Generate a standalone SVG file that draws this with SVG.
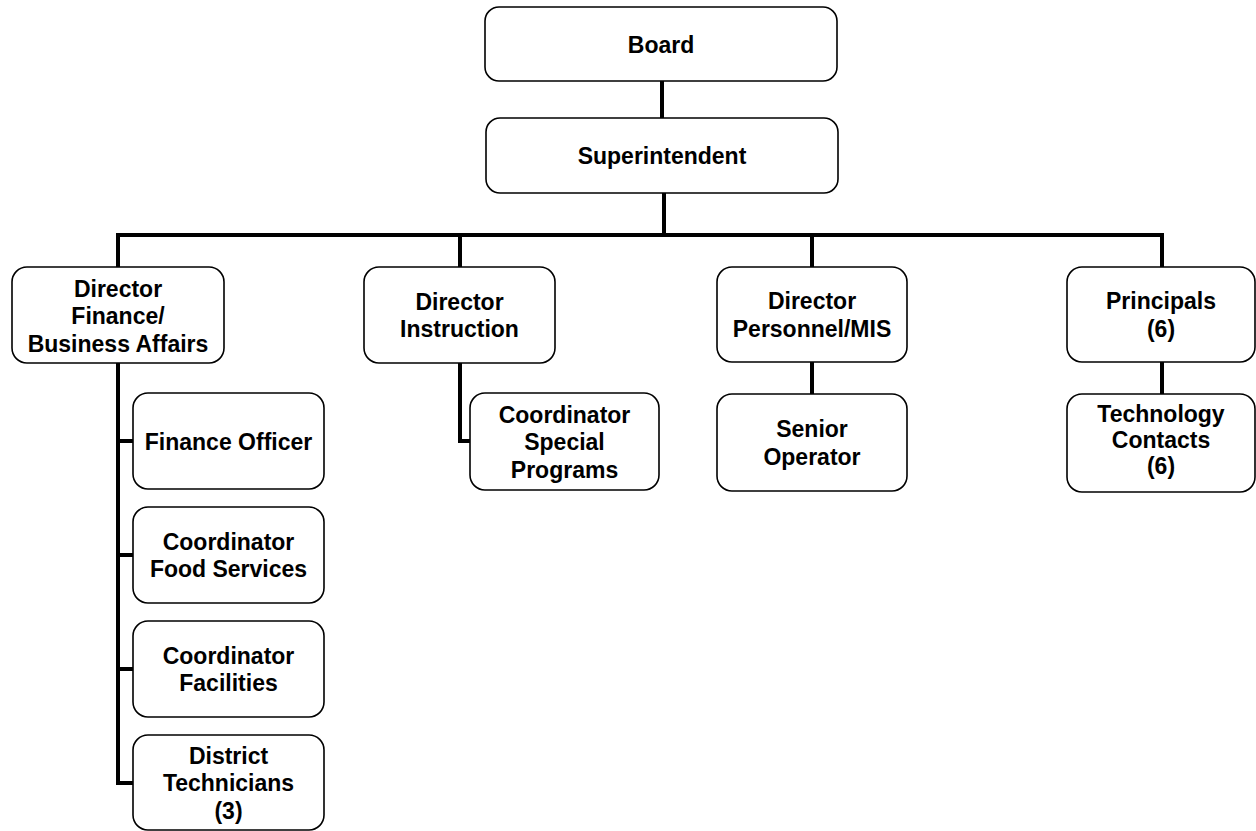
<svg xmlns="http://www.w3.org/2000/svg" width="1256" height="831" viewBox="0 0 1256 831">
  <style>
    .box { fill: #ffffff; stroke: #000000; stroke-width: 1.6; }
    .lbl { font-family: "Liberation Sans", Arial, sans-serif; font-weight: bold; font-size: 23px; fill: #000000; text-anchor: middle; }
    .wire { fill: none; stroke: #000000; stroke-width: 4; stroke-linejoin: miter; stroke-linecap: butt; }
  </style>
  <rect width="1256" height="831" fill="#ffffff"/>

  <!-- reporting lines -->
  <g id="connectors">
    <path class="wire" d="M662 81 V118"/>
    <path class="wire" d="M664 193 V235"/>
    <path class="wire" d="M118 267 V235 H1162 V267"/>
    <path class="wire" d="M460 235 V267"/>
    <path class="wire" d="M812 235 V267"/>
    <path class="wire" d="M118 363 V783 H133"/>
    <path class="wire" d="M118 441 H133 M118 555 H133 M118 669 H133"/>
    <path class="wire" d="M460 363 V441 H470"/>
    <path class="wire" d="M812 362 V394"/>
    <path class="wire" d="M1162 362 V394"/>
  </g>

  <g id="board">
    <rect class="box" x="485" y="7" width="352" height="74" rx="14"/>
    <text class="lbl" x="661" y="52.5">Board</text>
  </g>

  <g id="superintendent">
    <rect class="box" x="486" y="118" width="352" height="75" rx="14"/>
    <text class="lbl" x="662" y="164">Superintendent</text>
  </g>

  <g id="director-finance">
    <rect class="box" x="12" y="267" width="212" height="96" rx="15"/>
    <text class="lbl" x="118" y="296.5">Director</text>
    <text class="lbl" x="118" y="324">Finance/</text>
    <text class="lbl" x="118" y="351.5">Business Affairs</text>
  </g>

  <g id="director-instruction">
    <rect class="box" x="364" y="267" width="191" height="96" rx="15"/>
    <text class="lbl" x="459.5" y="309.5">Director</text>
    <text class="lbl" x="459.5" y="337">Instruction</text>
  </g>

  <g id="director-personnel">
    <rect class="box" x="717" y="267" width="190" height="95" rx="15"/>
    <text class="lbl" x="812" y="309">Director</text>
    <text class="lbl" x="812" y="336.5">Personnel/MIS</text>
  </g>

  <g id="principals">
    <rect class="box" x="1067" y="267" width="188" height="95" rx="15"/>
    <text class="lbl" x="1161" y="309">Principals</text>
    <text class="lbl" x="1161" y="336.5">(6)</text>
  </g>

  <g id="finance-officer">
    <rect class="box" x="133" y="393" width="191" height="96" rx="15"/>
    <text class="lbl" x="228.5" y="449.5">Finance Officer</text>
  </g>

  <g id="coordinator-food-services">
    <rect class="box" x="133" y="507" width="191" height="96" rx="15"/>
    <text class="lbl" x="228.5" y="549.5">Coordinator</text>
    <text class="lbl" x="228.5" y="577">Food Services</text>
  </g>

  <g id="coordinator-facilities">
    <rect class="box" x="133" y="621" width="191" height="96" rx="15"/>
    <text class="lbl" x="228.5" y="663.5">Coordinator</text>
    <text class="lbl" x="228.5" y="691">Facilities</text>
  </g>

  <g id="district-technicians">
    <rect class="box" x="133" y="735" width="191" height="95" rx="15"/>
    <text class="lbl" x="228.5" y="763.5">District</text>
    <text class="lbl" x="228.5" y="791">Technicians</text>
    <text class="lbl" x="228.5" y="818.5">(3)</text>
  </g>

  <g id="coordinator-special-programs">
    <rect class="box" x="470" y="393" width="189" height="97" rx="15"/>
    <text class="lbl" x="564.5" y="422.5">Coordinator</text>
    <text class="lbl" x="564.5" y="450">Special</text>
    <text class="lbl" x="564.5" y="477.5">Programs</text>
  </g>

  <g id="senior-operator">
    <rect class="box" x="717" y="394" width="190" height="97" rx="15"/>
    <text class="lbl" x="812" y="437">Senior</text>
    <text class="lbl" x="812" y="464.5">Operator</text>
  </g>

  <g id="technology-contacts">
    <rect class="box" x="1067" y="394" width="188" height="98" rx="15"/>
    <text class="lbl" x="1161" y="422">Technology</text>
    <text class="lbl" x="1161" y="448">Contacts</text>
    <text class="lbl" x="1161" y="474">(6)</text>
  </g>
</svg>
